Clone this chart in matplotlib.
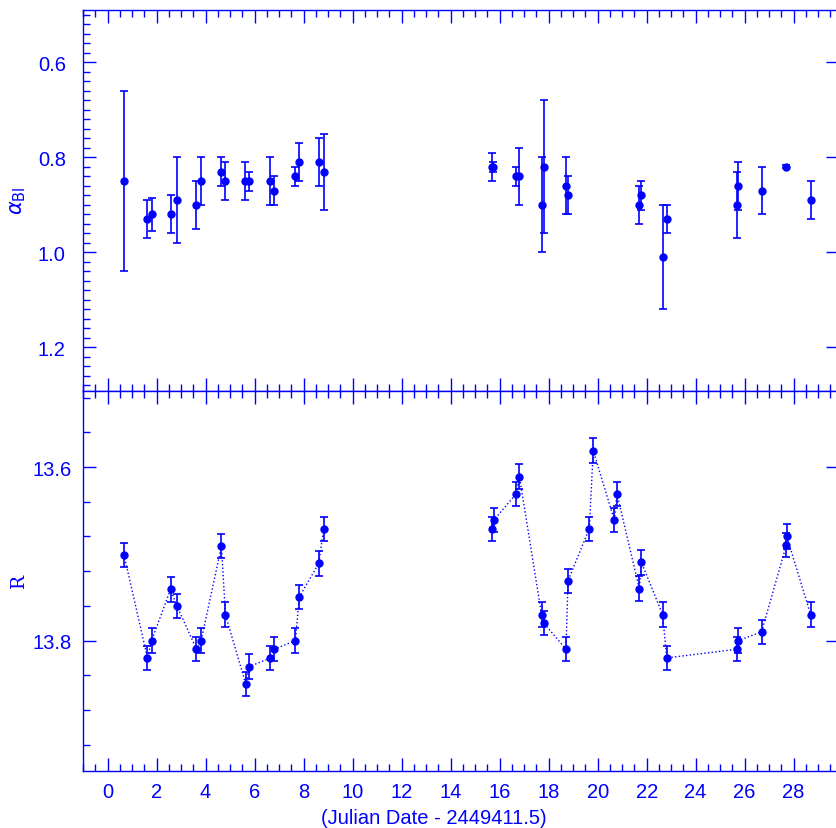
import matplotlib.pyplot as plt
import numpy as np
from matplotlib.ticker import MultipleLocator

plt.rcParams['font.family'] = ['Liberation Sans', 'DejaVu Sans']
plt.rcParams['mathtext.fontset'] = 'dejavusans'

# top panel: spectral index alpha_BI
jd_alpha = [0.67, 1.63, 1.80, 2.58, 2.83, 3.63, 3.82, 4.65, 4.81, 5.63, 5.77,
            6.65, 6.80, 7.67, 7.82, 8.62, 8.82,
            15.70, 15.73, 16.67, 16.81, 17.71, 17.81, 18.71, 18.80,
            21.70, 21.79, 22.65, 22.82, 25.67, 25.74, 26.69, 27.70, 28.69]
alpha = [0.85, 0.93, 0.92, 0.92, 0.89, 0.90, 0.85, 0.83, 0.85, 0.85, 0.85,
         0.85, 0.87, 0.84, 0.81, 0.81, 0.83,
         0.82, 0.82, 0.84, 0.84, 0.90, 0.82, 0.86, 0.88,
         0.90, 0.88, 1.01, 0.93, 0.90, 0.86, 0.87, 0.82, 0.89]
alpha_err = [0.19, 0.04, 0.035, 0.04, 0.09, 0.05, 0.05, 0.03, 0.04, 0.04, 0.02,
             0.05, 0.03, 0.02, 0.04, 0.05, 0.08,
             0.03, 0.01, 0.02, 0.06, 0.10, 0.14, 0.06, 0.04,
             0.04, 0.03, 0.11, 0.03, 0.07, 0.05, 0.05, 0.003, 0.04]

# bottom panel: R magnitude
jd_r = [0.67, 1.63, 1.80, 2.57, 2.83, 3.63, 3.82, 4.65, 4.81, 5.64, 5.78,
        6.65, 6.80, 7.67, 7.82, 8.62, 8.82,
        15.70, 15.77, 16.67, 16.81, 17.71, 17.81, 18.71, 18.79, 19.66, 19.82,
        20.68, 20.79, 21.70, 21.79, 22.65, 22.82, 25.67, 25.74, 26.69, 27.70,
        27.72, 28.69]
r_mag = [13.701, 13.820, 13.800, 13.741, 13.760, 13.810, 13.800, 13.691, 13.770,
         13.850, 13.830, 13.820, 13.810, 13.800, 13.750, 13.711, 13.671,
         13.671, 13.661, 13.631, 13.611, 13.770, 13.780, 13.810, 13.731, 13.671,
         13.581, 13.661, 13.631, 13.740, 13.710, 13.770, 13.820, 13.810, 13.800,
         13.790, 13.690, 13.680, 13.770]
r_err = [0.014] * len(r_mag)

blue = (0, 0, 1)

fig = plt.figure(figsize=(8.37, 8.29), dpi=100)
ax1 = fig.add_axes([0.0992, 0.5275, 0.9032, 0.4592])
ax2 = fig.add_axes([0.0992, 0.0691, 0.9032, 0.4584])

ax1.errorbar(jd_alpha, alpha, yerr=alpha_err, fmt='o', color=blue, ms=5,
             elinewidth=1.2, capsize=3.2, capthick=1.2)

x = np.array(jd_r)
y = np.array(r_mag)
for m in (x < 12, x > 12):
    ax2.plot(x[m], y[m], ':', color=blue, lw=1)
ax2.errorbar(jd_r, r_mag, yerr=r_err, fmt='o', color=blue, ms=5,
             elinewidth=1.2, capsize=3.2, capthick=1.2)

ax1.set_ylim(1.2915, 0.49)
ax2.set_ylim(13.95, 13.512)
ax1.yaxis.set_major_locator(MultipleLocator(0.2))
ax1.yaxis.set_minor_locator(MultipleLocator(0.02))
ax2.yaxis.set_major_locator(MultipleLocator(0.2))
ax2.yaxis.set_minor_locator(MultipleLocator(0.04))

for ax in (ax1, ax2):
    ax.set_xlim(-1.0, 29.85)
    ax.xaxis.set_major_locator(MultipleLocator(2))
    ax.xaxis.set_minor_locator(MultipleLocator(0.5))
    ax.tick_params(which='both', direction='in', top=True, right=True,
                   color=blue, labelcolor=blue, labelsize=14.5)
    ax.tick_params(which='major', length=9.5, width=1)
    ax.tick_params(which='minor', length=5, width=1, right=False)
    ax.tick_params(axis='y', pad=22.5)
    ax.tick_params(axis='x', pad=8)
    for lbl in ax.get_yticklabels():
        lbl.set_horizontalalignment('center')
    for s in ax.spines.values():
        s.set_color(blue)
        s.set_linewidth(1)

ax1.tick_params(labelbottom=False)

fig.text(434 / 837, 1 - 819 / 829, '(Julian Date - 2449411.5)', color=blue,
         fontsize=14.5, ha='center', va='center')
fig.text(18 / 837, 1 - 201 / 829, r'$\alpha_{\rm BI}$', color=blue,
         fontsize=15, rotation=90, ha='center', va='center')
fig.text(19 / 837, 1 - 581 / 829, 'R', color=blue, family='DejaVu Serif',
         fontsize=13.5, rotation=90, ha='center', va='center')

fig.savefig('out.png', dpi=100)
